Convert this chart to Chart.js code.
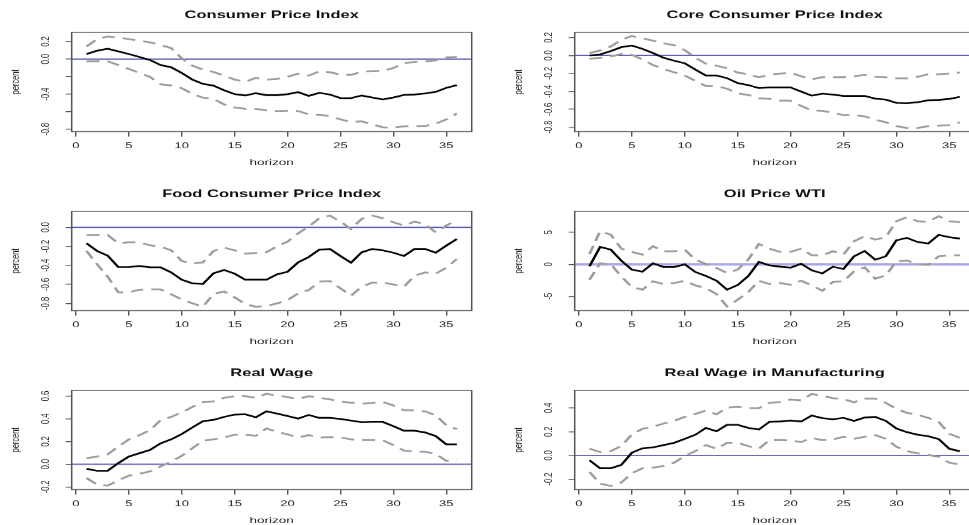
<!DOCTYPE html>
<html>
<head>
<meta charset="utf-8">
<title>Impulse responses</title>
<script src="https://cdn.jsdelivr.net/npm/chart.js@4.4.1/dist/chart.umd.min.js"></script>
<style>
  html, body { margin: 0; padding: 0; background: #fff; overflow: hidden; width: 969px; height: 525px; }
  .panel { position: absolute; transform-origin: 0 0; }
  canvas { display: block; }
</style>
</head>
<body>
<script>
// ---- data -------------------------------------------------------------
const horizon = [1,2,3,4,5,6,7,8,9,10,11,12,13,14,15,16,17,18,19,20,21,22,23,24,25,26,27,28,29,30,31,32,33,34,35,36];
const xTickValues = [0,5,10,15,20,25,30,35];

const cpiIrf   = [0.057,0.094,0.117,0.087,0.057,0.023,-0.011,-0.068,-0.094,-0.158,-0.234,-0.283,-0.302,-0.355,-0.40,-0.415,-0.389,-0.411,-0.411,-0.40,-0.377,-0.419,-0.385,-0.404,-0.445,-0.445,-0.415,-0.438,-0.46,-0.438,-0.408,-0.404,-0.392,-0.374,-0.328,-0.298];
const cpiUpper = [0.143,0.226,0.257,0.245,0.226,0.208,0.19,0.16,0.125,0.008,-0.075,-0.12,-0.147,-0.189,-0.234,-0.26,-0.215,-0.234,-0.226,-0.204,-0.166,-0.189,-0.14,-0.151,-0.177,-0.181,-0.143,-0.14,-0.136,-0.102,-0.045,-0.034,-0.026,-0.015,0.019,0.023];
const cpiLower = [-0.026,-0.023,-0.026,-0.068,-0.113,-0.158,-0.204,-0.287,-0.302,-0.332,-0.396,-0.44,-0.453,-0.517,-0.551,-0.566,-0.566,-0.585,-0.592,-0.589,-0.592,-0.63,-0.634,-0.649,-0.687,-0.717,-0.709,-0.743,-0.777,-0.781,-0.766,-0.762,-0.762,-0.736,-0.687,-0.619];
const cpiYTicks  = [-0.8,-0.6,-0.4,-0.2,0,0.2];
const cpiYLabels = ['-0.8','','-0.4','','0.0','0.2'];

const coreIrf   = [0.0,0.011,0.048,0.092,0.11,0.074,0.026,-0.026,-0.059,-0.088,-0.158,-0.224,-0.224,-0.254,-0.309,-0.331,-0.364,-0.357,-0.357,-0.357,-0.404,-0.449,-0.426,-0.437,-0.452,-0.452,-0.452,-0.482,-0.493,-0.529,-0.533,-0.522,-0.5,-0.496,-0.485,-0.463];
const coreUpper = [0.026,0.055,0.099,0.173,0.217,0.191,0.165,0.136,0.114,0.059,-0.026,-0.092,-0.114,-0.143,-0.191,-0.21,-0.243,-0.217,-0.202,-0.195,-0.232,-0.268,-0.243,-0.243,-0.243,-0.232,-0.217,-0.239,-0.243,-0.257,-0.257,-0.239,-0.21,-0.21,-0.202,-0.191];
const coreLower = [-0.037,-0.029,-0.011,0.015,0.007,-0.044,-0.107,-0.151,-0.188,-0.224,-0.283,-0.342,-0.342,-0.371,-0.423,-0.441,-0.478,-0.485,-0.504,-0.507,-0.563,-0.614,-0.618,-0.643,-0.665,-0.665,-0.68,-0.717,-0.746,-0.79,-0.809,-0.809,-0.79,-0.783,-0.779,-0.746];
const coreYTicks  = [-0.8,-0.6,-0.4,-0.2,0,0.2];
const coreYLabels = ['-0.8','-0.6','-0.4','-0.2','0.0','0.2'];

const foodIrf   = [-0.168,-0.249,-0.298,-0.418,-0.418,-0.407,-0.421,-0.421,-0.474,-0.551,-0.589,-0.596,-0.484,-0.449,-0.488,-0.551,-0.551,-0.551,-0.495,-0.467,-0.368,-0.312,-0.235,-0.228,-0.302,-0.372,-0.263,-0.228,-0.242,-0.267,-0.302,-0.228,-0.228,-0.267,-0.193,-0.123];
const foodUpper = [-0.084,-0.081,-0.081,-0.168,-0.158,-0.158,-0.189,-0.204,-0.242,-0.354,-0.382,-0.368,-0.249,-0.214,-0.242,-0.277,-0.27,-0.263,-0.2,-0.151,-0.063,0.007,0.095,0.123,0.06,-0.018,0.088,0.123,0.095,0.053,0.018,0.06,0.032,-0.053,0.018,0.077];
const foodLower = [-0.249,-0.389,-0.519,-0.684,-0.684,-0.656,-0.653,-0.653,-0.705,-0.758,-0.8,-0.835,-0.702,-0.674,-0.737,-0.807,-0.835,-0.828,-0.8,-0.765,-0.695,-0.66,-0.572,-0.565,-0.642,-0.719,-0.625,-0.582,-0.582,-0.6,-0.625,-0.509,-0.474,-0.488,-0.425,-0.333];
const foodYTicks  = [-0.8,-0.6,-0.4,-0.2,0];
const foodYLabels = ['-0.8','-0.6','-0.4','-0.2','0.0'];

const oilIrf   = [-0.31,2.72,2.3,0.58,-0.84,-1.15,0.16,-0.42,-0.42,0,-1.2,-1.83,-2.57,-3.98,-3.25,-1.83,0.37,-0.16,-0.37,-0.52,0.1,-0.94,-1.41,-0.37,-0.73,1.26,2.09,0.73,1.26,3.77,4.14,3.51,3.25,4.61,4.24,4.03];
const oilUpper = [1.62,5.18,4.66,2.46,1.94,1.52,2.83,2.04,2.04,2.3,0.73,0.05,-0.58,-1.36,-0.84,0.73,3.19,2.46,1.94,1.94,2.46,1.41,1.41,2.04,1.52,3.61,4.4,3.87,4.24,6.75,7.38,6.75,6.65,7.54,6.75,6.6];
const oilLower = [-2.41,0.16,0.05,-1.88,-3.56,-3.98,-2.67,-3.09,-2.93,-2.57,-3.3,-3.72,-4.66,-6.6,-5.55,-4.35,-2.57,-3.09,-2.93,-3.19,-2.57,-3.3,-4.14,-2.77,-2.67,-1.1,-0.47,-2.25,-1.73,0.47,0.58,0.05,-0.1,1.26,1.41,1.41];
const oilYTicks  = [-5,0,5];
const oilYLabels = ['-5','0','5'];

const wageIrf   = [-0.041,-0.058,-0.058,0.009,0.067,0.096,0.125,0.183,0.218,0.265,0.323,0.378,0.39,0.416,0.436,0.439,0.413,0.465,0.445,0.424,0.401,0.433,0.407,0.407,0.398,0.384,0.369,0.372,0.372,0.334,0.294,0.294,0.279,0.247,0.174,0.174];
const wageUpper = [0.052,0.067,0.087,0.154,0.218,0.256,0.299,0.387,0.416,0.456,0.503,0.547,0.552,0.584,0.599,0.599,0.584,0.619,0.605,0.59,0.573,0.599,0.584,0.57,0.552,0.541,0.532,0.538,0.547,0.517,0.474,0.474,0.465,0.43,0.343,0.308];
const wageLower = [-0.122,-0.18,-0.189,-0.142,-0.102,-0.084,-0.064,-0.02,0.023,0.073,0.14,0.206,0.218,0.235,0.259,0.259,0.25,0.314,0.285,0.262,0.235,0.256,0.235,0.238,0.235,0.218,0.212,0.212,0.209,0.169,0.119,0.11,0.11,0.09,0.029,0.038];
const wageYTicks  = [-0.2,0,0.2,0.4,0.6];
const wageYLabels = ['-0.2','0.0','0.2','0.4','0.6'];

const mfgIrf   = [-0.042,-0.109,-0.109,-0.081,0.022,0.059,0.067,0.087,0.106,0.14,0.174,0.232,0.204,0.258,0.258,0.232,0.218,0.283,0.286,0.294,0.286,0.336,0.314,0.305,0.317,0.291,0.319,0.325,0.291,0.227,0.196,0.174,0.162,0.137,0.056,0.034];
const mfgUpper = [0.056,0.028,0.036,0.078,0.176,0.224,0.241,0.269,0.291,0.325,0.35,0.378,0.347,0.403,0.409,0.398,0.398,0.443,0.451,0.471,0.465,0.518,0.504,0.482,0.476,0.448,0.479,0.479,0.443,0.392,0.359,0.342,0.317,0.283,0.182,0.148];
const mfgLower = [-0.14,-0.238,-0.258,-0.23,-0.151,-0.109,-0.104,-0.09,-0.062,-0.006,0.036,0.087,0.056,0.106,0.106,0.078,0.056,0.129,0.129,0.126,0.112,0.148,0.129,0.134,0.157,0.14,0.157,0.171,0.14,0.073,0.036,0.017,0.003,-0.011,-0.062,-0.076];
const mfgYTicks  = [-0.2,0,0.2,0.4];
const mfgYLabels = ['-0.2','0.0','0.2','0.4'];

// ---- panels ------------------------------------------------------------
const panels = [
  { title: 'Consumer Price Index',      irf: cpiIrf,  upper: cpiUpper,  lower: cpiLower,  yTicks: cpiYTicks,  yLabels: cpiYLabels,  yMin: -0.826, yMax: 0.304, col: 0, row: 0 },
  { title: 'Core Consumer Price Index', irf: coreIrf, upper: coreUpper, lower: coreLower, yTicks: coreYTicks, yLabels: coreYLabels, yMin: -0.85,  yMax: 0.258, col: 1, row: 0 },
  { title: 'Food Consumer Price Index', irf: foodIrf, upper: foodUpper, lower: foodLower, yTicks: foodYTicks, yLabels: foodYLabels, yMin: -0.876, yMax: 0.168, col: 0, row: 1 },
  { title: 'Oil Price WTI',             irf: oilIrf,  upper: oilUpper,  lower: oilLower,  yTicks: oilYTicks,  yLabels: oilYLabels,  yMin: -7.25,  yMax: 8.3,   col: 1, row: 1, wideZero: true },
  { title: 'Real Wage',                 irf: wageIrf, upper: wageUpper, lower: wageLower, yTicks: wageYTicks, yLabels: wageYLabels, yMin: -0.224, yMax: 0.65,  col: 0, row: 2 },
  { title: 'Real Wage in Manufacturing',irf: mfgIrf,  upper: mfgUpper,  lower: mfgLower,  yTicks: mfgYTicks,  yLabels: mfgYLabels,  yMin: -0.289, yMax: 0.549, col: 1, row: 2 }
];

// Layout: each panel is drawn on its own canvas and squeezed vertically.
const SQUEEZE = 0.65;
const columns = [
  { left: 0,   width: 484, boxLeft: 71.7, boxRight: 471.7 },
  { left: 485, width: 495, boxLeft: 89.7, boxRight: 489.7 }
];
const rowTops = [0, 179, 358.4];
const CANVAS_H = 274;
const BOX_TOP = 32.3 / SQUEEZE;
const BOX_H = 99.3 / SQUEEZE;
const FONT = '"Liberation Sans", Arial, Helvetica, sans-serif';

function decorations(p) {
  return {
    id: 'decor',
    beforeDatasetsDraw(chart) {
      const { ctx, chartArea: a, scales: { y } } = chart;
      const y0 = y.getPixelForValue(0);
      ctx.save();
      ctx.strokeStyle = p.wideZero ? '#a9a9e4' : '#5555b5';
      ctx.lineWidth = p.wideZero ? 4 : 1.7;
      ctx.beginPath();
      ctx.moveTo(a.left, y0);
      ctx.lineTo(a.right, y0);
      ctx.stroke();
      ctx.restore();
    },
    afterDraw(chart) {
      const { ctx, chartArea: a, scales: { y } } = chart;
      ctx.save();
      // frame
      ctx.strokeStyle = '#555';
      ctx.lineWidth = 1.5;
      ctx.strokeRect(a.left, a.top, a.right - a.left, a.bottom - a.top);
      const cx = (a.left + a.right) / 2;
      // title
      ctx.fillStyle = '#111';
      ctx.textAlign = 'center';
      ctx.textBaseline = 'middle';
      ctx.font = 'bold 16.5px ' + FONT;
      ctx.fillText(p.title, cx, a.top - 26);
      // x axis title
      ctx.fillStyle = '#222';
      ctx.font = '13.5px ' + FONT;
      ctx.fillText('horizon', cx, a.bottom + 48);
      // y axis title
      ctx.save();
      ctx.translate(a.left - 56, (a.top + a.bottom) / 2);
      ctx.rotate(-Math.PI / 2);
      ctx.font = '11.5px ' + FONT;
      ctx.fillText('percent', 0, 0);
      ctx.restore();
      // y tick labels, rotated as in base graphics
      ctx.font = '11.5px ' + FONT;
      p.yTicks.forEach((v, i) => {
        const label = p.yLabels[i];
        if (!label) return;
        ctx.save();
        ctx.translate(a.left - 26, y.getPixelForValue(v));
        ctx.rotate(-Math.PI / 2);
        ctx.fillText(label, 0, 0);
        ctx.restore();
      });
      ctx.restore();
    }
  };
}

panels.forEach(p => {
  const col = columns[p.col];
  const holder = document.createElement('div');
  holder.className = 'panel';
  holder.style.left = col.left + 'px';
  holder.style.top = rowTops[p.row] + 'px';
  holder.style.transform = 'scaleY(' + SQUEEZE + ')';
  const canvas = document.createElement('canvas');
  canvas.width = col.width;
  canvas.height = CANVAS_H;
  canvas.style.width = col.width + 'px';
  canvas.style.height = CANVAS_H + 'px';
  holder.appendChild(canvas);
  document.body.appendChild(holder);

  const pts = arr => horizon.map((h, i) => ({ x: h, y: arr[i] }));
  const band = (arr) => ({
    data: pts(arr), borderColor: '#9c9c9c', borderWidth: 2.8, borderDash: [13, 8],
    pointRadius: 0, tension: 0, fill: false
  });

  new Chart(canvas, {
    type: 'line',
    data: {
      datasets: [
        band(p.upper),
        band(p.lower),
        { data: pts(p.irf), borderColor: '#000', borderWidth: 2.6, pointRadius: 0, tension: 0, fill: false }
      ]
    },
    options: {
      responsive: false,
      animation: false,
      devicePixelRatio: 1,
      layout: { padding: { left: 0, right: col.width - col.boxRight, top: BOX_TOP, bottom: 0 } },
      plugins: { legend: { display: false }, tooltip: { enabled: false }, title: { display: false } },
      scales: {
        x: {
          type: 'linear', min: -0.4, max: 37.4, bounds: 'data',
          afterBuildTicks: s => { s.ticks = xTickValues.map(v => ({ value: v })); },
          afterFit: s => { s.height = CANVAS_H - BOX_TOP - BOX_H; },
          grid: { drawOnChartArea: false, drawTicks: true, tickLength: 7.7, color: '#555', lineWidth: 1.4 },
          border: { display: false },
          ticks: { autoSkip: false, maxRotation: 0, padding: 6, color: '#1a1a1a', font: { family: FONT, size: 13 } }
        },
        y: {
          type: 'linear', min: p.yMin, max: p.yMax, bounds: 'data',
          afterBuildTicks: s => { s.ticks = p.yTicks.map(v => ({ value: v })); },
          afterFit: s => { s.width = col.boxLeft; },
          grid: { drawOnChartArea: false, drawTicks: true, tickLength: 6, color: '#555', lineWidth: 1.4 },
          border: { display: false },
          ticks: { display: false }
        }
      }
    },
    plugins: [decorations(p)]
  });
});
</script>
</body>
</html>
